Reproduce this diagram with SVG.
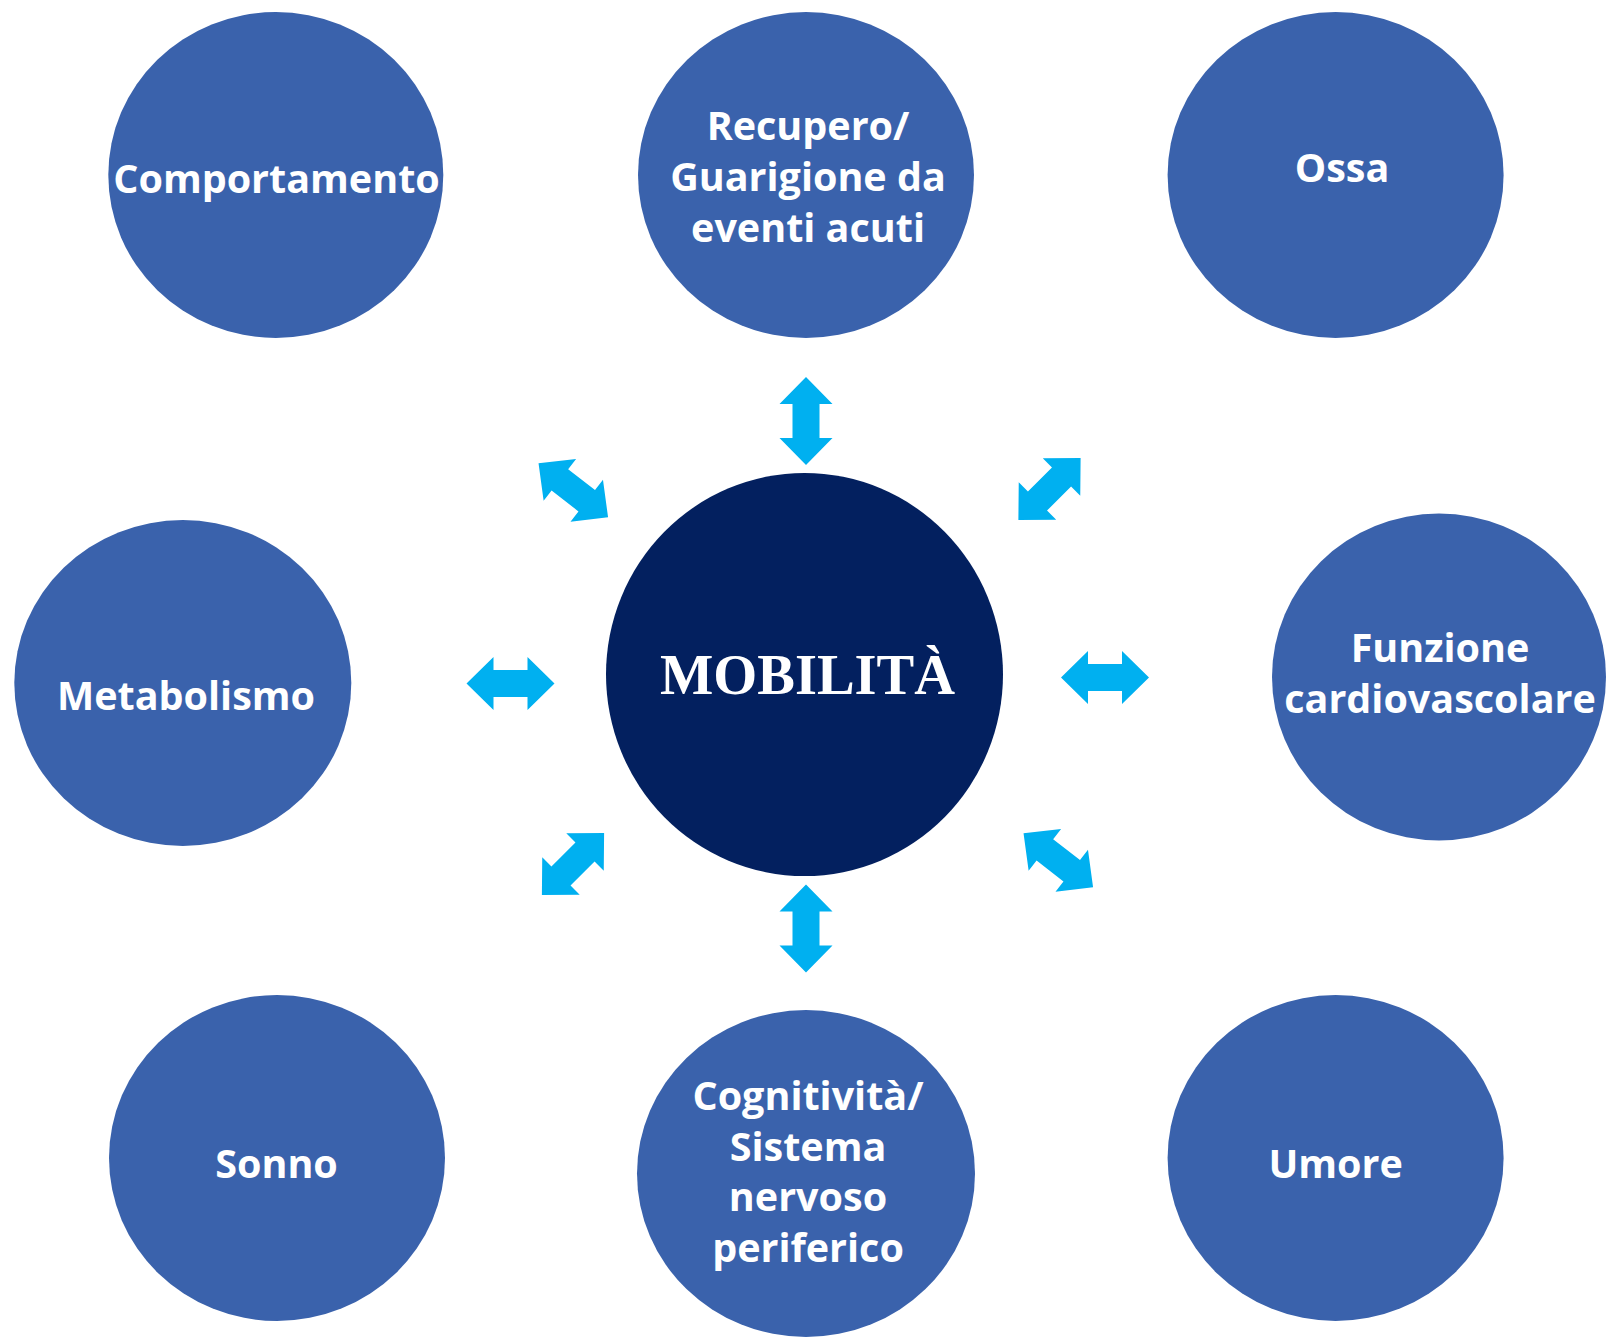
<svg xmlns="http://www.w3.org/2000/svg" width="1606" height="1337" viewBox="0 0 1606 1337">
  <style>
    .node { fill: #3A62AC; }
    .hub { fill: #03205F; }
    .label { fill: #FFFFFF; font-family: "Open Sans", "Liberation Sans", sans-serif; font-weight: 700; font-size: 39.5px; text-anchor: middle; }
    .hub-label { fill: #FFFFFF; font-family: "Liberation Serif", "Times New Roman", serif; font-weight: 700; font-size: 56.5px; text-anchor: middle; }
    .link { fill: #00B0F0; }
  </style>
  <defs>
    <!-- double-headed block arrow, centred on the origin, pointing along x -->
    <path id="dbl-arrow" d="M -44,0 L -17,-26.5 L -17,-13.5 L 17,-13.5 L 17,-26.5 L 44,0 L 17,26.5 L 17,13.5 L -17,13.5 L -17,26.5 Z"/>
  </defs>
  <rect width="1606" height="1337" fill="#FFFFFF"/>

  <!-- connectors between the hub and the surrounding nodes -->
  <g id="connectors" class="link">
    <use href="#dbl-arrow" transform="translate(806,421) rotate(90)"/>
    <use href="#dbl-arrow" transform="translate(806,928.5) rotate(90)"/>
    <use href="#dbl-arrow" transform="translate(510.5,683.5)"/>
    <use href="#dbl-arrow" transform="translate(1105,677.5)"/>
    <use href="#dbl-arrow" transform="translate(573.3,490.3) rotate(37.8)"/>
    <use href="#dbl-arrow" transform="translate(1049.5,489) rotate(-45)"/>
    <use href="#dbl-arrow" transform="translate(573,864) rotate(-45)"/>
    <use href="#dbl-arrow" transform="translate(1058.3,860.3) rotate(37.8)"/>
  </g>

  <!-- central hub -->
  <g id="node-mobilita">
    <ellipse class="hub" cx="804.5" cy="674.5" rx="198.5" ry="201.5"/>
    <text class="hub-label" x="807.5" y="694">MOBILITÀ</text>
  </g>

  <!-- surrounding nodes -->
  <g id="node-comportamento">
    <ellipse class="node" cx="275.8" cy="175" rx="167.5" ry="163"/>
    <text class="label" x="276.5" y="193">Comportamento</text>
  </g>

  <g id="node-recupero">
    <ellipse class="node" cx="806" cy="175" rx="168" ry="163"/>
    <text class="label" x="808" y="140">Recupero/</text>
    <text class="label" x="808" y="190.5">Guarigione da</text>
    <text class="label" x="808" y="241.5">eventi acuti</text>
  </g>

  <g id="node-ossa">
    <ellipse class="node" cx="1335.6" cy="175" rx="168" ry="163"/>
    <text class="label" x="1342" y="182">Ossa</text>
  </g>

  <g id="node-metabolismo">
    <ellipse class="node" cx="182.8" cy="683" rx="168.5" ry="163"/>
    <text class="label" x="186" y="710">Metabolismo</text>
  </g>

  <g id="node-funzione">
    <ellipse class="node" cx="1439" cy="677" rx="167" ry="163.5"/>
    <text class="label" x="1440" y="662">Funzione</text>
    <text class="label" x="1440" y="713">cardiovascolare</text>
  </g>

  <g id="node-sonno">
    <ellipse class="node" cx="277" cy="1158" rx="168" ry="163"/>
    <text class="label" x="276.5" y="1178">Sonno</text>
  </g>

  <g id="node-cognitivita">
    <ellipse class="node" cx="806" cy="1173.5" rx="169" ry="163.5"/>
    <text class="label" x="808" y="1110">Cognitività/</text>
    <text class="label" x="808" y="1160.5">Sistema</text>
    <text class="label" x="808" y="1211">nervoso</text>
    <text class="label" x="808" y="1261.5">periferico</text>
  </g>

  <g id="node-umore">
    <ellipse class="node" cx="1335.6" cy="1158" rx="168" ry="163"/>
    <text class="label" x="1335.6" y="1178">Umore</text>
  </g>
</svg>
